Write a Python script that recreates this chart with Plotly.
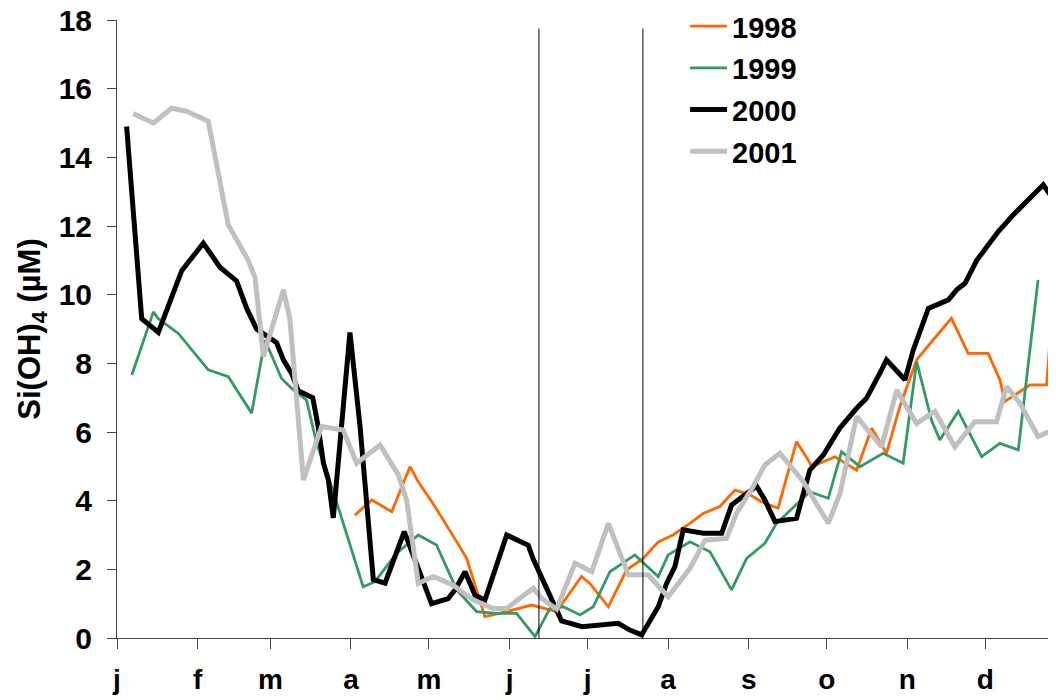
import plotly.graph_objects as go

# Si(OH)4 weekly samples, x = day of year
dias_1998 = [91.5, 98.0, 105.7, 112.7, 115.9, 122.3, 130.7, 134.5, 138.3, 141.5, 149.9, 159.5,
             169.1, 178.7, 181.9, 189.0, 196.0, 202.4, 208.2, 213.9, 220.4, 225.5, 231.9, 237.7,
             243.5, 247.9, 254.3, 261.4, 265.9, 267.2, 276.2, 284.5, 290.3, 296.0, 301.2, 307.6,
             313.9, 321.0, 327.4, 335.1, 339.6, 341.5, 345.4, 351.2, 357.6, 361.2, 364.0]
si_1998 = [3.58, 4.02, 3.68, 4.99, 4.55, 3.83, 2.80, 2.32, 1.40, 0.62, 0.77, 0.96,
           0.77, 1.79, 1.59, 0.91, 1.98, 2.32, 2.80, 3.00, 3.34, 3.63, 3.83, 4.31,
           4.17, 3.97, 3.78, 5.72, 5.18, 4.99, 5.28, 4.89, 6.11, 5.38, 6.76, 8.10,
           8.68, 9.31, 8.29, 8.29, 7.52, 6.89, 7.08, 7.37, 7.37, 11.0, 13.5]

dias_1999 = [5.7, 14.0, 15.9, 23.6, 35.1, 42.8, 51.8, 56.9, 63.3, 67.2, 72.9, 76.8,
             82.6, 87.0, 94.7, 99.2, 107.6, 115.9, 122.9, 130.7, 138.3, 146.0, 153.7, 160.8,
             166.5, 171.7, 178.1, 183.2, 189.6, 199.2, 208.2, 212.0, 220.4, 228.1, 236.4, 242.2,
             249.2, 253.7, 266.5, 273.6, 278.7, 285.8, 294.7, 302.4, 307.6, 313.3, 316.5, 323.6,
             332.6, 339.6, 346.7, 354.3]
si_1999 = [7.66, 9.50, 9.30, 8.87, 7.81, 7.61, 6.55, 8.68, 7.56, 7.27, 6.93, 5.67,
           4.41, 3.34, 1.49, 1.64, 2.47, 3.00, 2.71, 1.40, 0.77, 0.72, 0.72, 0.04,
           0.86, 0.91, 0.67, 0.91, 1.93, 2.42, 1.79, 2.42, 2.80, 2.51, 1.40, 2.32,
           2.76, 3.34, 4.26, 4.07, 5.43, 4.99, 5.38, 5.09, 8.05, 6.35, 5.77, 6.60,
           5.28, 5.67, 5.48, 10.43]

dias_2000 = [3.7, 9.5, 15.9, 21.7, 24.9, 33.2, 39.6, 42.8, 46.0, 49.9, 53.7, 61.4,
             64.0, 67.2, 69.7, 75.3, 77.4, 79.4, 81.3, 83.2, 87.0, 89.6, 93.5, 98.6,
             103.1, 108.2, 110.5, 121.0, 127.4, 130.0, 133.9, 137.7, 141.5, 149.9, 154.3, 158.2,
             160.1, 167.4, 171.0, 178.9, 185.8, 192.8, 197.3, 201.8, 208.2, 211.4, 214.6, 217.8,
             225.5, 232.6, 236.4, 240.9, 246.0, 249.2, 253.1, 261.4, 266.5, 271.7, 278.0, 284.5,
             288.3, 294.1, 296.0, 303.1, 306.3, 312.1, 319.8, 323.0, 326.2, 330.7, 339.0, 344.7,
             356.3, 361.2, 365.0]
si_2000 = [14.9, 9.3, 8.9, 10.1, 10.7, 11.5, 10.8, 10.6, 10.4, 9.6, 9.0, 8.6,
           8.1, 7.7, 7.2, 7.0, 6.15, 5.1, 4.6, 3.5, 6.8, 8.9, 6.15, 1.7,
           1.6, 2.65, 3.1, 1.0, 1.15, 1.4, 1.93, 1.25, 1.1, 3.0, 2.85, 2.7,
           2.3, 1.05, 0.5, 0.33, 0.38, 0.43, 0.23, 0.09, 0.91, 1.59, 2.08, 3.15,
           3.05, 3.05, 3.87, 4.15, 4.43, 4.02, 3.39, 3.49, 4.89, 5.33, 6.11, 6.69,
           6.98, 7.81, 8.1, 7.52, 8.39, 9.6, 9.85, 10.14, 10.33, 11.0, 11.84, 12.32,
           13.2, 12.66, 12.2]

dias_2001 = [6.2, 14.0, 21.0, 26.8, 35.1, 42.8, 50.5, 53.1, 56.3, 64.0, 66.5, 71.7,
             78.7, 87.0, 92.2, 101.2, 108.2, 111.4, 115.9, 121.7, 129.3, 137.0, 144.7, 149.9,
             155.0, 160.1, 163.3, 169.1, 176.2, 182.6, 189.0, 196.7, 204.3, 212.0, 220.4, 226.2,
             234.5, 238.3, 244.7, 249.2, 255.0, 264.0, 273.6, 278.1, 284.5, 294.1, 299.9, 307.6,
             314.6, 322.3, 330.0, 338.3, 342.2, 347.3, 354.3, 361.2, 366.0]
si_2001 = [15.28, 15.0, 15.43, 15.34, 15.05, 12.03, 11.0, 10.5, 8.2, 10.14, 9.3, 4.6,
           6.16, 6.06, 5.09, 5.62, 4.75, 4.02, 1.59, 1.79, 1.54, 1.11, 0.86, 0.86,
           1.16, 1.45, 1.16, 0.84, 2.18, 1.93, 3.34, 1.84, 1.84, 1.2, 2.03, 2.85,
           2.9, 3.63, 4.41, 5.04, 5.38, 4.55, 3.34, 4.21, 6.45, 5.57, 7.22, 6.25,
           6.6, 5.57, 6.3, 6.3, 7.32, 6.84, 5.87, 6.11, 6.2]

# inicio de cada mes
mes_dias = [0, 31, 59, 90, 120, 151, 181, 212, 243, 273, 304, 334]
mes_letras = ["j", "f", "m", "a", "m", "j", "j", "a", "s", "o", "n", "d"]

# lineas verticales (periodo de muestreo)
lineas_v = [162.3, 202.3]

series = [
    ("1998", dias_1998, si_1998, "#FF6600", 2.8),
    ("1999", dias_1999, si_1999, "#339966", 2.8),
    ("2000", dias_2000, si_2000, "#000000", 5),
    ("2001", dias_2001, si_2001, "#C0C0C0", 5),
]

fuente = "Liberation Sans, Arial, sans-serif"

fig = go.Figure()
for nombre, x, y, color, ancho in series:
    fig.add_trace(go.Scatter(
        x=x, y=y, mode="lines", name=nombre, legendgroup=nombre,
        line=dict(color=color, width=ancho)
    ))

for xv in lineas_v:
    fig.add_shape(type="line", x0=xv, x1=xv, y0=0, y1=17.75,
                  xref="x", yref="y", line=dict(color="black", width=1))

# la pagina tiene 8px de margen en el body
fig.update_layout(
    width=1056, height=700,
    margin=dict(l=109, r=8, t=12, b=70, autoexpand=False),
    plot_bgcolor="white", paper_bgcolor="white",
    font=dict(family=fuente, size=28, color="black", weight="bold"),
    showlegend=True,
    legend=dict(x=0.605, y=1.031, xanchor="left", yanchor="top",
                bgcolor="rgba(0,0,0,0)", itemwidth=37, tracegroupgap=1,
                font=dict(size=29, weight="bold")),
    xaxis=dict(range=[0, 361.2], tickvals=mes_dias, ticktext=mes_letras, automargin=False,
               showgrid=False, zeroline=False, showline=True, linecolor="#444444", linewidth=1,
               ticks="outside", ticklen=10, tickcolor="#444444", ticklabelstandoff=6,
               ticklabeloverflow="allow"),
    yaxis=dict(range=[0, 18], dtick=2, showgrid=False, zeroline=False, automargin=False,
               showline=True, linecolor="#444444", linewidth=1,
               ticks="outside", ticklen=9, tickcolor="#444444", ticklabelstandoff=9,
               ticklabeloverflow="allow", tickfont=dict(size=30),
               title=dict(text="Si(OH)<sub>4</sub> (µM)", standoff=8,
                          font=dict(size=31, weight="bold"))),
)

fig.write_html("out.html")
